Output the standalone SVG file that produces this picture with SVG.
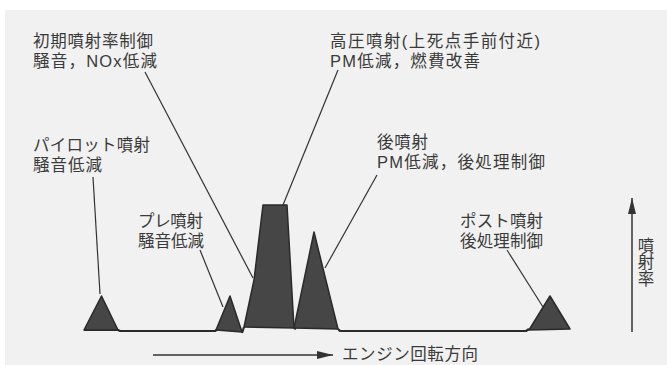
<svg xmlns="http://www.w3.org/2000/svg" width="667" height="365" viewBox="0 0 667 365">
<defs>
<style>
.t{font-family:"Liberation Sans","Noto Sans CJK JP",sans-serif;font-size:16.5px;fill:#3a3a3a}
.v{writing-mode:vertical-rl}
.lead{stroke:#333;stroke-width:1.2;fill:none}
.pk{fill:#464646;stroke:#2a2a2a;stroke-width:1.5;stroke-linejoin:round}
.base{stroke:#2a2a2a;stroke-width:2.2;fill:none;stroke-linejoin:round}
</style>
<marker id="ah" viewBox="0 0 16 8" refX="16" refY="4" markerWidth="16" markerHeight="8" markerUnits="userSpaceOnUse" orient="auto">
<path d="M0,0 L16,4 L0,8 Z" fill="#333"/>
</marker>
</defs>
<rect x="0" y="0" width="667" height="365" fill="#ffffff"/>
<rect x="5" y="10" width="662" height="355" fill="#f1f1f1"/>

<g id="waveform">
<polyline class="base" points="84,330 118,330 120,331 215,331 218,329"/>
<polyline class="base" points="242,333 244,327"/>
<polyline class="base" points="294,328 296,329"/>
<polyline class="base" points="338,329 340,331 526,331 529,329"/>
<polygon id="pilot" class="pk" points="84,330 101.5,296 118,330"/>
<polygon id="pre" class="pk" points="216,330 230,296 242,332"/>
<polygon id="main" class="pk" points="244,327 254,280 263,205 287,205 294,328"/>
<polygon id="after" class="pk" points="294,328 314,232 338,329"/>
<polygon id="post" class="pk" points="529,330 550,296 570,329"/>
</g>

<g id="connectors">
<line class="lead" x1="93" y1="177" x2="100" y2="294"/>
<line class="lead" x1="145" y1="72" x2="253" y2="278"/>
<line class="lead" x1="200" y1="250" x2="223" y2="307"/>
<line class="lead" x1="338" y1="70" x2="283" y2="205"/>
<line class="lead" x1="377" y1="175" x2="325" y2="268"/>
<line class="lead" x1="507" y1="250" x2="543" y2="307"/>
<line id="x-axis" x1="153" y1="355" x2="333" y2="355" stroke="#333" stroke-width="1.5" marker-end="url(#ah)"/>
<line id="y-axis" x1="632" y1="332" x2="632" y2="198" stroke="#333" stroke-width="1.5" marker-end="url(#ah)"/>
</g>

<g id="label-initial">
<text class="t"><tspan x="33" y="47" textLength="120" lengthAdjust="spacing">初期噴射率制御</tspan><tspan x="33" y="67" textLength="124" lengthAdjust="spacing">騒音，NOx低減</tspan></text>
</g>
<g id="label-main">
<text class="t"><tspan x="330" y="47" textLength="210" lengthAdjust="spacing">高圧噴射(上死点手前付近)</tspan><tspan x="330" y="67" textLength="150" lengthAdjust="spacing">PM低減，燃費改善</tspan></text>
</g>
<g id="label-pilot">
<text class="t"><tspan x="33" y="151" textLength="117" lengthAdjust="spacing">パイロット噴射</tspan><tspan x="33" y="171" textLength="69" lengthAdjust="spacing">騒音低減</tspan></text>
</g>
<g id="label-after">
<text class="t"><tspan x="377" y="148" textLength="51" lengthAdjust="spacing">後噴射</tspan><tspan x="377" y="168" textLength="168" lengthAdjust="spacing">PM低減，後処理制御</tspan></text>
</g>
<g id="label-pre">
<text class="t"><tspan x="138" y="227" textLength="65" lengthAdjust="spacing">プレ噴射</tspan><tspan x="138" y="247" textLength="66" lengthAdjust="spacing">騒音低減</tspan></text>
</g>
<g id="label-post">
<text class="t"><tspan x="460" y="227" textLength="83" lengthAdjust="spacing">ポスト噴射</tspan><tspan x="460" y="247" textLength="83" lengthAdjust="spacing">後処理制御</tspan></text>
</g>
<g id="label-yaxis">
<text class="t v" x="645" y="237">噴射率</text>
</g>
<g id="label-xaxis">
<text class="t" x="342" y="360" textLength="136" lengthAdjust="spacing">エンジン回転方向</text>
</g>
</svg>
